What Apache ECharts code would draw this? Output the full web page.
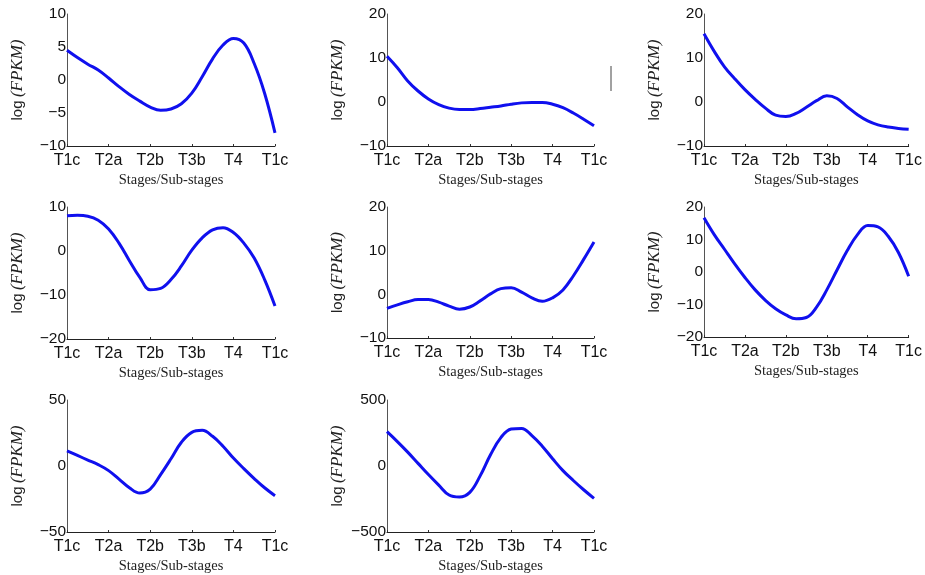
<!DOCTYPE html>
<html>
<head>
<meta charset="utf-8">
<script src="https://cdn.jsdelivr.net/npm/echarts@6/dist/echarts.min.js"></script>
<style>html,body{margin:0;padding:0;background:#fff}#c{width:925px;height:575px}</style>
</head>
<body>
<div id="c"></div>
<script>
// ---- data ----
const stageLabels = ['T1c', 'T2a', 'T2b', 'T3b', 'T4', 'T1c'];
const samplePos = [0, 0.25, 0.5, 0.75, 1, 1.25, 1.5, 1.75, 2, 2.25, 2.5, 2.75, 3, 3.25, 3.5, 3.75, 4, 4.25, 4.5, 4.75, 5];

const panel1 = [4.5, 3.4, 2.4, 1.5, 0.3, -1.0, -2.2, -3.2, -4.1, -4.6, -4.4, -3.6, -2.0, 0.5, 3.2, 5.3, 6.3, 5.6, 2.5, -2.0, -8.0];
const panel2 = [10.4, 7.8, 4.8, 2.5, 0.7, -0.6, -1.4, -1.7, -1.7, -1.5, -1.2, -0.9, -0.5, -0.2, -0.1, -0.1, -0.5, -1.3, -2.5, -3.9, -5.4];
const panel3 = [15.5, 11.5, 8.0, 5.3, 2.8, 0.6, -1.4, -3.0, -3.3, -2.6, -1.2, 0.3, 1.4, 0.8, -1.1, -2.9, -4.3, -5.2, -5.7, -6.0, -6.2];
const panel4 = [8.0, 8.1, 7.9, 7.0, 5.0, 1.8, -2.2, -6.0, -8.8, -8.5, -6.5, -3.4, 0.2, 3.0, 4.8, 5.3, 4.2, 1.8, -1.6, -6.5, -12.5];
const panel5 = [-3.2, -2.4, -1.7, -1.2, -1.2, -1.8, -2.7, -3.4, -2.9, -1.5, 0.1, 1.3, 1.5, 0.5, -0.8, -1.6, -0.8, 1.0, 4.2, 8.0, 12.0];
const panel6 = [16.7, 11.5, 7.0, 2.5, -1.7, -5.5, -8.7, -11.3, -13.2, -14.4, -14.0, -10.8, -5.5, 0.6, 6.6, 11.5, 14.3, 13.9, 11.0, 6.0, -1.3];
const panel7 = [11.5, 8.0, 4.5, 1.0, -3.5, -10, -16.5, -20.5, -17.5, -6.5, 5.5, 18.0, 25.5, 27.0, 22.5, 15.0, 6.0, -2.0, -9.5, -16.5, -22.5];
const panel8 = [260, 185, 105, 20, -65, -145, -220, -235, -200, -75, 85, 215, 280, 285, 230, 150, 55, -35, -110, -180, -245];

const yMins  = [-10, -10, -10, -20, -10, -20, -50, -500];
const yMaxs  = [10, 20, 20, 10, 20, 20, 50, 500];
const ySteps = [5, 10, 10, 10, 10, 10, 50, 500];

const xName = 'Stages/Sub-stages';

// ---- layout ----
const panels = [panel1, panel2, panel3, panel4, panel5, panel6, panel7, panel8];
const gridBoxes = [
  [67, 14, 208, 132], [387, 14, 207, 132], [704, 14, 209, 132],
  [67, 207, 208, 132], [387, 207, 207, 131], [704, 207, 209, 130],
  [67, 400, 208, 132], [387, 400, 207, 132]
];

const grid = [], xAxis = [], yAxis = [], series = [];
panels.forEach((vals, i) => {
  const b = gridBoxes[i];
  grid.push({ left: b[0], top: b[1], width: b[2], height: b[3], containLabel: false });
  xAxis.push({
    type: 'value', gridIndex: i, min: 0, max: 5, interval: 1,
    name: xName, nameLocation: 'middle', nameGap: 27,
    nameTextStyle: { fontFamily: 'Liberation Serif', fontSize: 14.5, color: '#222' },
    axisLine: { show: true, onZero: false, lineStyle: { color: '#222', width: 1 } },
    axisTick: { show: true, inside: true, length: 2, lineStyle: { color: '#333' } },
    axisLabel: { margin: 7, fontFamily: 'Liberation Sans', fontSize: 16, color: '#111',
      formatter: v => stageLabels[Math.round(v)] },
    splitLine: { show: false }
  });
  yAxis.push({
    type: 'value', gridIndex: i, min: yMins[i], max: yMaxs[i], interval: ySteps[i],
    name: '{a|log} {b|(FPKM)}', nameLocation: 'middle', nameGap: 41, nameRotate: 90,
    nameTextStyle: {
      rich: {
        a: { fontFamily: 'Liberation Sans', fontSize: 15, color: '#222' },
        b: { fontFamily: 'Liberation Serif', fontStyle: 'italic', fontSize: 17, color: '#222' }
      }
    },
    axisLine: { show: true, onZero: false, lineStyle: { color: '#555', width: 1 } },
    axisTick: { show: false },
    axisLabel: { margin: 1, fontFamily: 'Liberation Sans', fontSize: 15.5, color: '#111',
      formatter: v => String(v).replace('-', '\u2212') },
    splitLine: { show: false }
  });
  series.push({
    type: 'line', xAxisIndex: i, yAxisIndex: i, smooth: 0.4, showSymbol: false,
    lineStyle: { color: '#1010ee', width: 3 },
    data: samplePos.map((x, k) => [x, vals[k]])
  });
});

const chart = echarts.init(document.getElementById('c'), null, { renderer: 'canvas' });
chart.setOption({
  animation: false,
  backgroundColor: '#fff',
  grid, xAxis, yAxis, series,
  graphic: [{ type: 'line', shape: { x1: 611, y1: 66, x2: 611, y2: 91 }, style: { stroke: '#444', lineWidth: 1 } }]
});
</script>
</body>
</html>
